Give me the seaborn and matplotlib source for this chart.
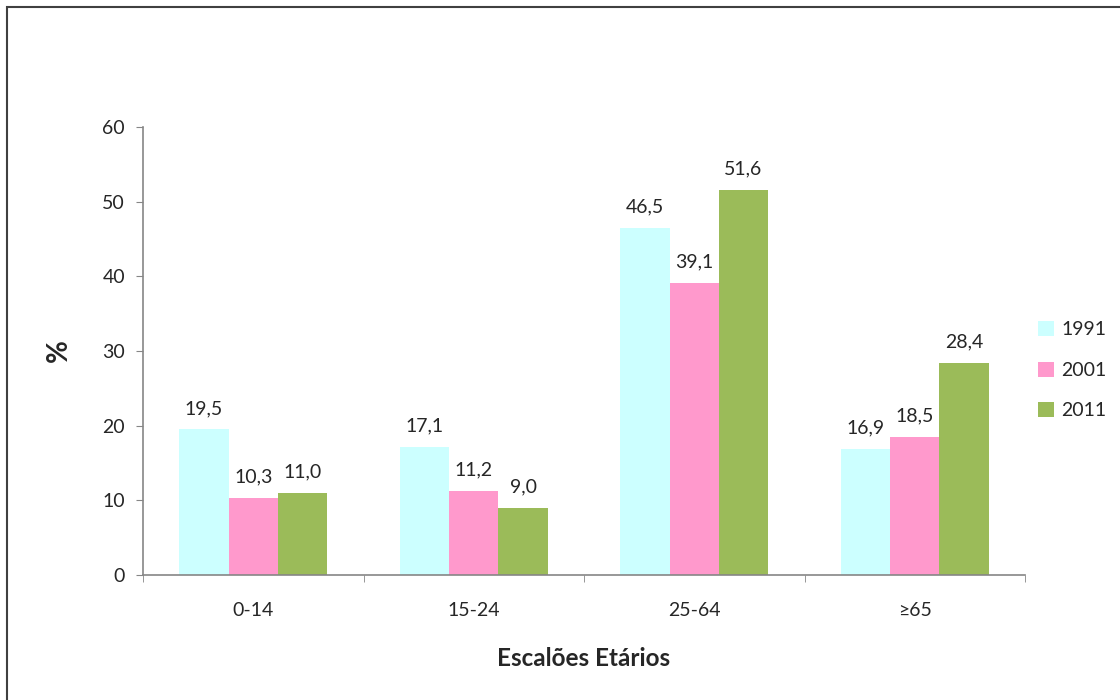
import pandas as pd
import numpy as np
import matplotlib.pyplot as plt
import seaborn as sns
from matplotlib.patches import Rectangle

# data
grupos = ['0-14', '15-24', '25-64', '≥65']
anos = ['1991', '2001', '2011']
v1991 = [19.5, 17.1, 46.5, 16.9]
v2001 = [10.3, 11.2, 39.1, 18.5]
v2011 = [11.0, 9.0, 51.6, 28.4]
cores = ['#CCFFFF', '#FF99CC', '#9BBB59']

df = pd.DataFrame({
    'grupo': grupos * 3,
    'ano': [a for a in anos for _ in grupos],
    'valor': v1991 + v2001 + v2011,
})

sns.set_style('white')
plt.rcParams['font.family'] = ['Lato', 'DejaVu Sans']

fig = plt.figure(figsize=(11.2, 7), dpi=100)
ax = fig.add_axes([0.1277, 0.1786, 0.7875, 0.64])

sns.barplot(data=df, x='grupo', y='valor', hue='ano', order=grupos, hue_order=anos,
            palette=cores, width=0.67, gap=0, saturation=1, linewidth=0, ax=ax, legend=True)

#data labels above bars
for cont in ax.containers:
    labels = [f'{b.get_height():.1f}'.replace('.', ',') for b in cont]
    ax.bar_label(cont, labels=labels, padding=9, fontsize=14)

ax.set_ylim(0, 60)
ax.set_xlim(-0.5, 3.5)
ax.set_yticks(range(0, 61, 10))
ax.tick_params(axis='y', labelsize=14, left=True, length=5, color='#868686', pad=8)
ax.tick_params(axis='x', which='major', bottom=False, labelsize=14, pad=16)
ax.set_xticks(np.arange(-0.5, 4, 1), minor=True)
ax.tick_params(axis='x', which='minor', bottom=True, length=5, color='#868686')
for s in ['top', 'right']:
    ax.spines[s].set_visible(False)
for s in ['left', 'bottom']:
    ax.spines[s].set_color('#868686')
    ax.spines[s].set_linewidth(1.2)

ax.set_ylabel('%', fontsize=20, fontweight='bold', labelpad=22)
ax.set_xlabel('Escalões Etários', fontsize=17.5, fontweight='bold', labelpad=20)

leg = ax.legend(loc='center left', bbox_to_anchor=(0.995, 0.457), frameon=False,
                fontsize=14, handlelength=0.8, handleheight=0.8, handletextpad=0.4,
                labelspacing=1.2)

#outer chart frame
fig.patches.append(Rectangle((7 / 1120, -0.1), 1.2, 1.1 - 7 / 700, transform=fig.transFigure,
                             fill=False, edgecolor='#404040', linewidth=1.5))

fig.savefig('out.png', dpi=100)
